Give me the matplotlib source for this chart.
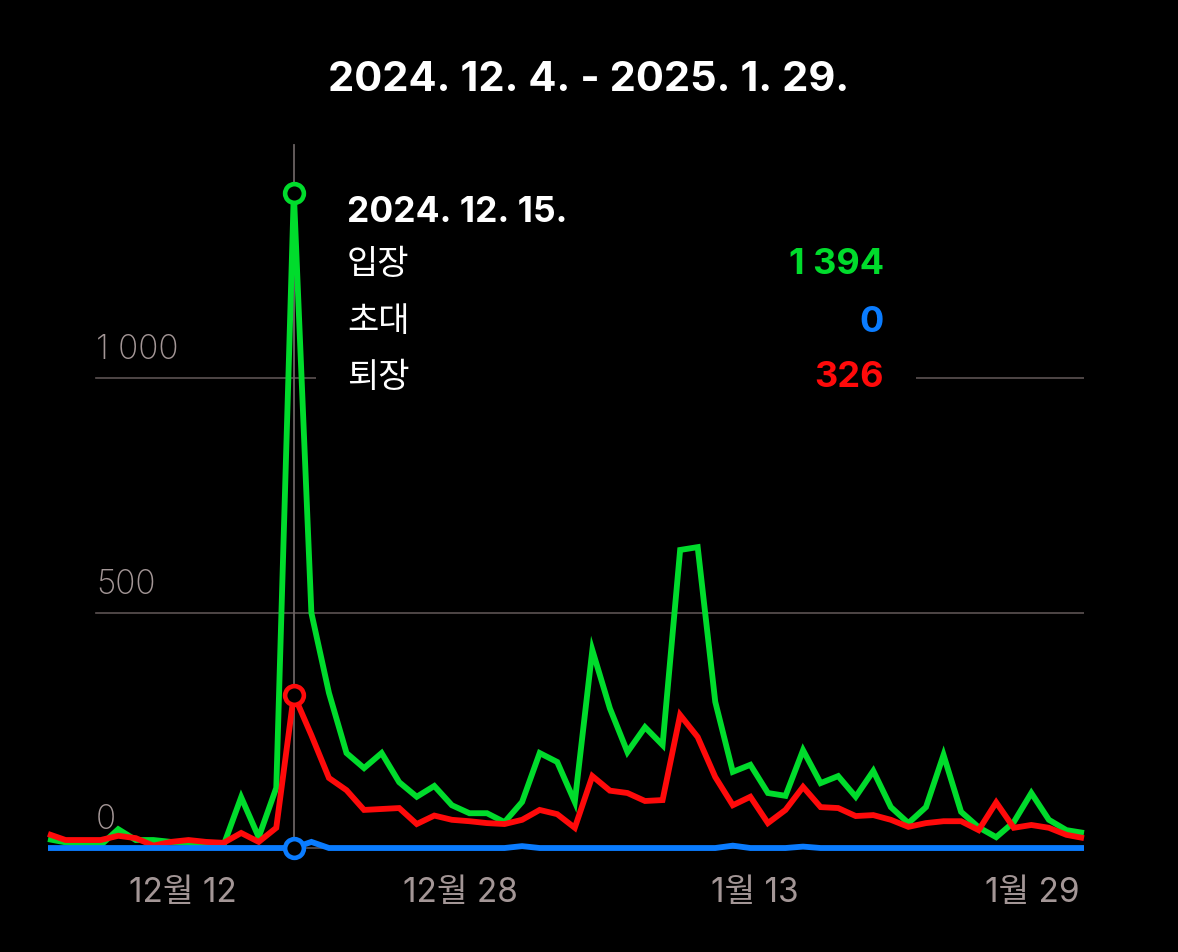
import matplotlib
matplotlib.use("Agg")
import matplotlib.pyplot as plt
import matplotlib.patches as mpatches
import pandas as pd

# Latin/digits from Inter, Hangul falls back to Noto CJK
plt.rcParams["font.family"] = ["Inter", "Noto Sans CJK KR", "DejaVu Sans"]

# --- data ---
DATES = pd.date_range("2024-12-01", "2025-01-29", freq="D")

ENTER = [19, 12, 6, 6, 40, 17, 17, 13, 11, 6,
         6, 108, 23, 128, 1394, 500, 330, 202, 170, 202,
         140, 109, 132, 91, 74, 74, 55, 98, 202, 183,
         98, 421, 297, 204, 257, 219, 634, 640, 311, 162,
         177, 117, 111, 208, 138, 153, 109, 164, 87, 53,
         87, 198, 77, 44, 23, 55, 117, 60, 38, 32]
INVITE = [0, 0, 0, 0, 0, 0, 0, 0, 0, 0,
          0, 0, 0, 0, 0, 13, 0, 0, 0, 0,
          0, 0, 0, 0, 0, 0, 0, 4, 0, 0,
          0, 0, 0, 0, 0, 0, 0, 0, 0, 5,
          0, 0, 0, 3, 0, 0, 0, 0, 0, 0,
          0, 0, 0, 0, 0, 0, 0, 0, 0, 0]
LEAVE = [30, 17, 17, 17, 26, 21, 5, 13, 17, 13,
         11, 32, 13, 43, 326, 240, 149, 123, 81, 83,
         85, 51, 69, 60, 57, 53, 51, 60, 81, 72,
         43, 153, 122, 117, 100, 102, 283, 236, 151, 91,
         109, 53, 81, 130, 87, 85, 68, 70, 60, 45,
         53, 57, 57, 38, 97, 43, 49, 43, 28, 21]

SERIES = [("입장", ENTER, "#00dc2c"),
          ("초대", INVITE, "#0a7cff"),
          ("퇴장", LEAVE, "#ff0a0a")]

Y_TICKS = [0, 500, 1000]
Y_LABELS = ["0", "500", "1 000"]
X_TICK_DATES = ["2024-12-12", "2024-12-28", "2025-01-13", "2025-01-29"]
X_LABELS = ["12월 12", "12월 28", "1월 13", "1월 29"]
HOVER_DATE = "2024-12-15"
TITLE = "2024. 12. 4. - 2025. 1. 29."

W, H = 1178, 952
BG = "#000000"
GRID = "#5c5252"
TICK_TXT = "#a39696"


def fx(px):
    return px / W


def fy(py):
    return 1 - py / H


def main():
    fig = plt.figure(figsize=(W / 100, H / 100), dpi=100)
    fig.patch.set_facecolor(BG)
    ax = fig.add_axes([fx(48), fy(860), fx(1084) - fx(48), fy(140) - fy(860)])
    ax.set_facecolor(BG)
    for s in ax.spines.values():
        s.set_visible(False)
    ax.set_xticks([])
    ax.set_yticks([])

    x = list(range(len(DATES)))
    ax.set_xlim(0, len(DATES) - 1)
    ax.set_ylim(-25.5, 1506)

    # gridlines start at the label column, not the axes edge
    grid_start = (96 - 48) / (1084 - 48)
    for v, lbl in zip(Y_TICKS, Y_LABELS):
        ax.axhline(v, xmin=grid_start, xmax=1, color=GRID, linewidth=1.2, zorder=1)
        ax.annotate(lbl, xy=(grid_start, v), xycoords=("axes fraction", "data"),
                    xytext=(0, 20), textcoords="offset points",
                    ha="left", va="center", fontsize=24, fontweight="light",
                    color=TICK_TXT)

    date_idx = {d.strftime("%Y-%m-%d"): i for i, d in enumerate(DATES)}
    for d, lbl in zip(X_TICK_DATES, X_LABELS):
        ax.annotate(lbl, xy=(date_idx[d], 0), xycoords=("data", "axes fraction"),
                    xytext=(-3, -24), textcoords="offset points",
                    ha="right", va="center", fontsize=24, color=TICK_TXT,
                    annotation_clip=False)

    hi = date_idx[HOVER_DATE]
    # hover guide line
    ax.plot([hi, hi], [0, 1495], color="#6a6262", linewidth=1.3, zorder=2)

    # tooltip background hides the gridline behind it
    ax.add_patch(mpatches.Rectangle((fx(316), fy(400)), fx(916) - fx(316), fy(180) - fy(400),
                                    transform=fig.transFigure, facecolor=BG,
                                    edgecolor="none", zorder=1.5, clip_on=False))

    for name, vals, color in [SERIES[0], SERIES[2], SERIES[1]]:
        ax.plot(x, vals, color=color, linewidth=4.2, zorder=3,
                solid_joinstyle="miter", solid_capstyle="butt", clip_on=False)
        ax.plot([hi], [vals[hi]], marker="o", markersize=13.5, markerfacecolor=BG,
                markeredgecolor=color, markeredgewidth=3.3, zorder=4, clip_on=False)

    fig.text(fx(589), fy(80), TITLE, ha="center", va="center",
             fontsize=30, fontweight="bold", color="white")

    hover_title = f"{DATES[hi].year}. {DATES[hi].month}. {DATES[hi].day}."
    fig.text(fx(347), fy(212), hover_title, ha="left", va="center",
             fontsize=25.5, fontweight="bold", color="white", zorder=5)
    row_y = [265, 322, 378]
    for (name, vals, color), ry in zip(SERIES, row_y):
        fig.text(fx(347), fy(ry), name, ha="left", va="center",
                 fontsize=24.5, color="white", zorder=5)
        v = vals[hi]
        txt = f"{v:,}".replace(",", " ")
        fig.text(fx(884), fy(ry), txt, ha="right", va="center",
                 fontsize=26, fontweight="bold", color=color, zorder=5)

    fig.savefig("out.png", dpi=100, facecolor=BG)
    plt.close(fig)


if __name__ == "__main__":
    main()
